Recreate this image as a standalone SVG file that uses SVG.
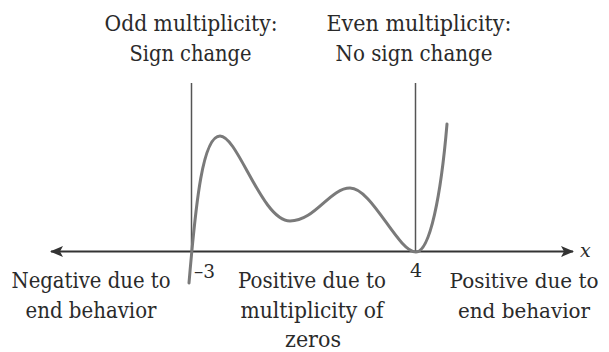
<svg xmlns="http://www.w3.org/2000/svg" width="609" height="352" viewBox="0 0 609 352">
  <style>
    text { font-family: "DejaVu Serif", "Liberation Serif", serif; fill: #2a2a2a; }
    .lbl { font-size: 22px; text-anchor: middle; }
    .lbl-r { font-size: 21px; text-anchor: middle; }
    .num { font-size: 19px; }
    .guide { stroke: #555; stroke-width: 1.5; fill: none; }
    .axis { stroke: #333; stroke-width: 2; fill: none; }
    .curve { stroke: #7a7a7a; stroke-width: 3; fill: none; stroke-linecap: round; stroke-linejoin: round; }
  </style>
  <defs>
    <marker id="arrow" viewBox="0 0 14 12" refX="13" refY="6" markerWidth="14" markerHeight="12" markerUnits="userSpaceOnUse" orient="auto-start-reverse">
      <path d="M14,6 L1,0.5 L4,6 L1,11.5 Z" fill="#333"/>
    </marker>
  </defs>

  <g id="connectors">
    <line id="axis" class="axis" x1="51" y1="251.5" x2="573" y2="251.5" marker-start="url(#arrow)" marker-end="url(#arrow)"/>
    <line id="guide-neg3" class="guide" x1="191.5" y1="83" x2="191.5" y2="252"/>
    <line id="guide-4" class="guide" x1="415.5" y1="83" x2="415.5" y2="252"/>
  </g>

  <g id="graph">
    <path class="curve" d="M189,283 C196,200 203,136 220,136 C238,136 262,221 290,221 C315,221 330,188 350,188 C372,188 398,252 416,252 C430,252 441,195 447,124"/>
  </g>

  <g id="odd-label">
    <text class="lbl" x="191" y="30.5" textLength="173" lengthAdjust="spacingAndGlyphs">Odd multiplicity:</text>
    <text class="lbl" x="190.5" y="61" textLength="122" lengthAdjust="spacingAndGlyphs">Sign change</text>
  </g>
  <g id="even-label">
    <text class="lbl" x="419" y="30.5" textLength="185" lengthAdjust="spacingAndGlyphs">Even multiplicity:</text>
    <text class="lbl" x="414" y="61" textLength="157" lengthAdjust="spacingAndGlyphs">No sign change</text>
  </g>

  <g id="tick-neg3">
    <text class="num" x="194" y="278" textLength="21" lengthAdjust="spacingAndGlyphs">–3</text>
  </g>
  <g id="tick-4">
    <text class="num" x="416" y="277" text-anchor="middle">4</text>
  </g>
  <g id="axis-label">
    <text class="num" x="580" y="257" font-style="italic">x</text>
  </g>

  <g id="left-region">
    <text class="lbl" x="91" y="288" textLength="159" lengthAdjust="spacingAndGlyphs">Negative due to</text>
    <text class="lbl" x="91" y="318" textLength="131" lengthAdjust="spacingAndGlyphs">end behavior</text>
  </g>
  <g id="middle-region">
    <text class="lbl" x="312" y="288" textLength="148" lengthAdjust="spacingAndGlyphs">Positive due to</text>
    <text class="lbl" x="312" y="318" textLength="143" lengthAdjust="spacingAndGlyphs">multiplicity of</text>
    <text class="lbl" x="313" y="347" textLength="56" lengthAdjust="spacingAndGlyphs">zeros</text>
  </g>
  <g id="right-region">
    <text class="lbl-r" x="524" y="288" textLength="149" lengthAdjust="spacingAndGlyphs">Positive due to</text>
    <text class="lbl-r" x="524" y="318" textLength="132" lengthAdjust="spacingAndGlyphs">end behavior</text>
  </g>
</svg>
